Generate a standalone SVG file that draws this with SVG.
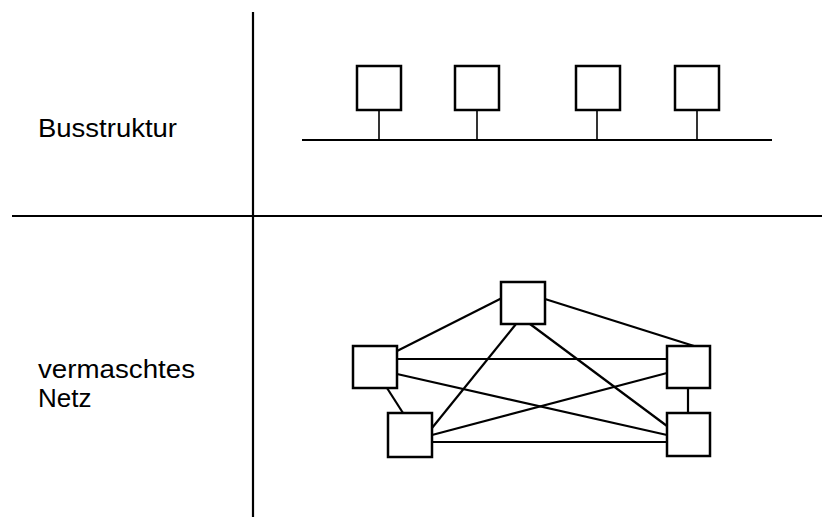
<svg xmlns="http://www.w3.org/2000/svg" width="822" height="517" viewBox="0 0 822 517">
<style>
.t{font-family:"Liberation Sans",Arial,sans-serif;font-size:26px;fill:#000}
.box{fill:#fff;stroke:#000;stroke-width:2.5}
.ln{stroke:#000;stroke-width:2.2;fill:none}
.stem{stroke:#000;stroke-width:1.6;fill:none}
.div{stroke:#000;stroke-width:2.2;fill:none}
</style>
<rect width="822" height="517" fill="#fff"/>
<g id="dividers">
<line class="div" x1="253" y1="12" x2="253" y2="517"/>
<line class="div" x1="12" y1="216" x2="822" y2="216"/>
</g>
<g id="labels">
<text class="t" x="38" y="137" textLength="139" lengthAdjust="spacingAndGlyphs">Busstruktur</text>
<text class="t" x="38" y="378" textLength="157" lengthAdjust="spacingAndGlyphs">vermaschtes</text>
<text class="t" x="38" y="407">Netz</text>
</g>
<g id="connectors">
<line class="ln" x1="302" y1="140" x2="772" y2="140"/>
<line class="stem" x1="379" y1="110" x2="379" y2="140"/>
<line class="stem" x1="477" y1="110" x2="477" y2="140"/>
<line class="stem" x1="597" y1="110" x2="597" y2="140"/>
<line class="stem" x1="697" y1="110" x2="697" y2="140"/>
<line class="ln" x1="397" y1="351" x2="502" y2="298"/>
<line class="ln" x1="545" y1="299" x2="694" y2="346"/>
<line class="ln" x1="397" y1="359" x2="667" y2="359"/>
<line class="ln" x1="397" y1="374" x2="667" y2="435"/>
<line class="ln" x1="387" y1="388" x2="403" y2="413"/>
<line class="ln" x1="516" y1="324" x2="432" y2="428"/>
<line class="ln" x1="530" y1="324" x2="667" y2="426"/>
<line class="ln" x1="667" y1="373" x2="432" y2="435"/>
<line class="ln" x1="688" y1="388" x2="688" y2="413"/>
<line class="ln" x1="432" y1="442" x2="667" y2="442"/>
</g>
<g id="bus1"><rect class="box" x="357" y="66" width="44" height="44"/></g>
<g id="bus2"><rect class="box" x="455" y="66" width="44" height="44"/></g>
<g id="bus3"><rect class="box" x="576" y="66" width="44" height="44"/></g>
<g id="bus4"><rect class="box" x="675" y="66" width="44" height="44"/></g>
<g id="meshTop"><rect class="box" x="501" y="282" width="44" height="42"/></g>
<g id="meshLeft"><rect class="box" x="353" y="346" width="44" height="42"/></g>
<g id="meshRight"><rect class="box" x="667" y="346" width="43" height="42"/></g>
<g id="meshBottomLeft"><rect class="box" x="388" y="413" width="44" height="44"/></g>
<g id="meshBottomRight"><rect class="box" x="667" y="413" width="43" height="43"/></g>
</svg>
